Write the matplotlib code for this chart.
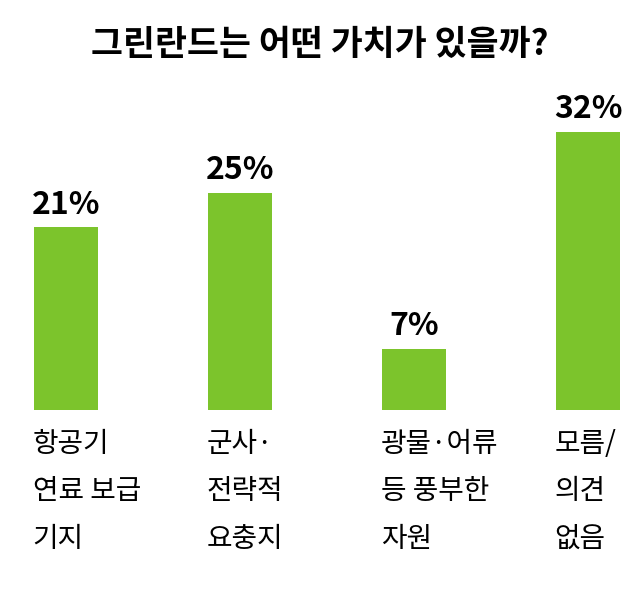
import matplotlib.pyplot as plt

plt.rcParams['font.family'] = ['Noto Sans CJK KR', 'DejaVu Sans']

categories = ["항공기\n연료 보급\n기지", "군사·\n전략적\n요충지", "광물·어류\n등 풍부한\n자원", "모름/\n의견\n없음"]
values = [21, 25, 7, 32]
title = "그린란드는 어떤 가치가 있을까?"

fig = plt.figure(figsize=(6.4, 6), dpi=100)
ax = fig.add_axes([0, 0.317, 1, 0.463])
xs = range(len(values))
width = 0.368
ax.bar(xs, values, width=width, color="#7cc42c")
ax.set_xlim(-0.379, 3.299)
ax.set_ylim(0, 32)
ax.axis("off")

for x, v, c in zip(xs, values, categories):
    ax.annotate(f"{v}%", (x, v), xytext=(0, 5), textcoords="offset points",
                ha="center", va="bottom", fontsize=23, fontweight="bold")
    ax.annotate(c, (x - width / 2, 0), xytext=(-1, -14), textcoords="offset points",
                ha="left", va="top", fontsize=20, linespacing=1.75)

fig.text(0.5, 0.925, title, ha="center", va="center", fontsize=25, fontweight="bold")
fig.savefig("out.png")
